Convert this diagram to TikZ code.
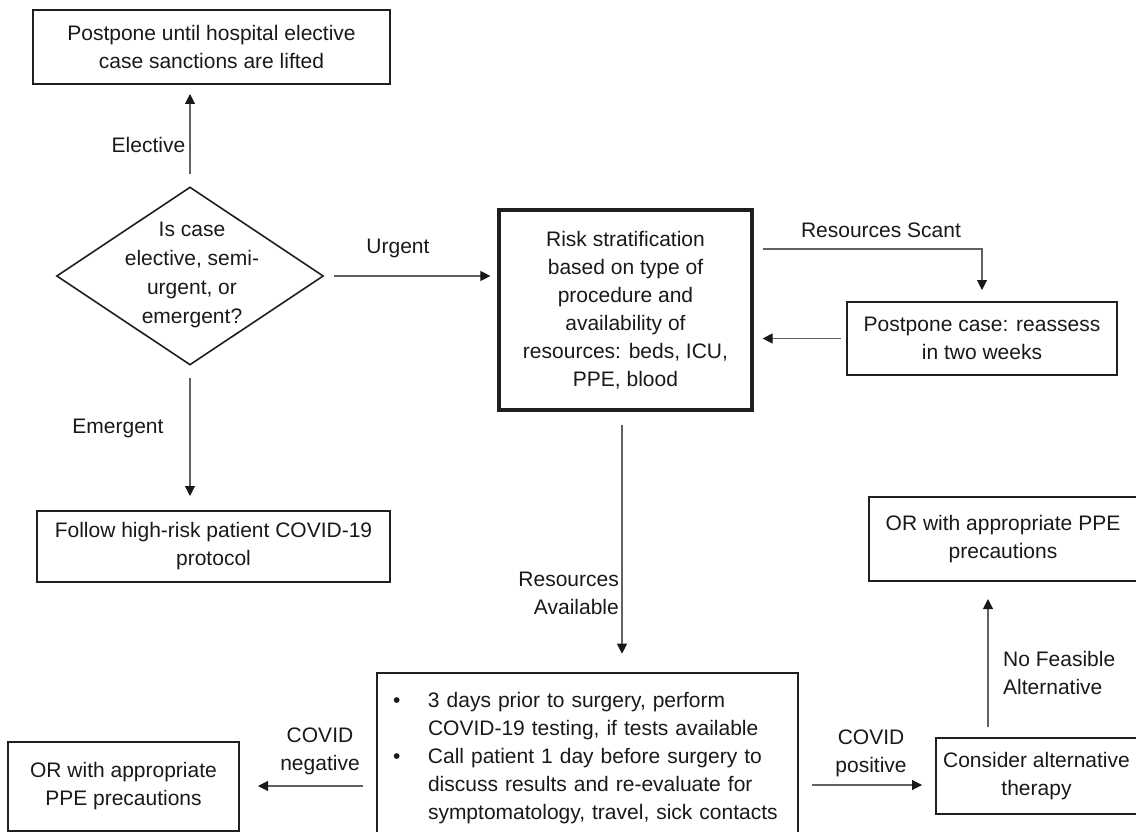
\documentclass[tikz,border=0pt]{standalone}
\usepackage{fontspec}
\setmainfont{Liberation Sans}
\usetikzlibrary{shapes.geometric,arrows.meta}
\begin{document}
\begin{tikzpicture}[x=1pt,y=-1pt,
  every node/.style={font=\fontsize{21}{28}\selectfont, inner sep=0pt, text=black!90},
  box/.style={draw=black!88, line width=2pt, rectangle, align=center},
  thickbox/.style={box, line width=3.2pt},
  arr/.style={draw=black!62, line width=1.1pt, -{Triangle[length=10pt,width=10pt,color=black!90]}},
  lab/.style={align=center},
]
\useasboundingbox (0,0) rectangle (1136,832);

% boxes
\node[box, minimum width=357pt, minimum height=74pt] (boxA) at (211.5,47)
  {Postpone until hospital elective\\case sanctions are lifted};
\node[diamond, draw=black!88, line width=1.6pt, minimum width=267pt, minimum height=178pt] (diam) at (190,276) {};
\node[lab, font=\fontsize{21}{29}\selectfont] (dtext) at (192,275)
  {Is case\\elective, semi-\\urgent, or\\emergent?};
\node[box, minimum width=353pt, minimum height=71pt] (follow) at (213.5,546.5)
  {Follow high-risk patient COVID-19\\protocol};
\node[thickbox, minimum width=253pt, minimum height=200pt] (risk) at (625.5,310)
  {Risk stratification\\based on type of\\procedure and\\availability of\\resources: beds, ICU,\\PPE, blood};
\node[box, minimum width=270pt, minimum height=73pt] (postpone) at (982,338.5)
  {Postpone case: reassess\\in two weeks};
\node[box, minimum width=268pt, minimum height=84pt] (ortr) at (1003,539)
  {OR with appropriate PPE\\precautions};
\node[box, line width=2.6pt, align=left, text width=389pt, inner xsep=16pt, minimum height=170pt] (bullet) at (587.5,758)
  {\makebox[35pt][l]{\textbullet}3 days prior to surgery, perform\\
   \hspace*{35pt}COVID-19 testing, if tests available\\
   \makebox[35pt][l]{\textbullet}Call patient 1 day before surgery to\\
   \hspace*{35pt}discuss results and re-evaluate for\\
   \hspace*{35pt}symptomatology, travel, sick contacts};
\node[box, minimum width=231pt, minimum height=89pt] (orl) at (123.5,786.5)
  {OR with appropriate\\PPE precautions};
\node[box, minimum width=201pt, minimum height=76pt] (consider) at (1036.5,776)
  {Consider alternative\\therapy};

% helper coordinates
\coordinate (avx) at (622,0);
\coordinate (nfx) at (988,0);
\coordinate (scy) at (0,249);
\coordinate (negy) at (0,786);
\coordinate (posy) at (0,785);

% connectors
\draw[arr, shorten <=12pt, shorten >=9pt] (diam.north) -- (diam.north |- boxA.south);
\draw[arr, shorten <=10pt, shorten >=7pt] (diam.east) -- (risk.west |- diam.east);
\draw[arr, shorten <=12pt, shorten >=14pt] (diam.south) -- (diam.south |- follow.north);
\draw[arr, shorten <=9pt, shorten >=11pt] (risk.east |- scy) -| (postpone.north);
\draw[arr, shorten <=5pt, shorten >=9pt] (postpone.west) -- (risk.east |- postpone.west);
\draw[arr, shorten <=13pt, shorten >=18pt] (risk.south -| avx) -- (bullet.north -| avx);
\draw[arr, shorten <=13pt, shorten >=18pt] (bullet.west |- negy) -- (orl.east |- negy);
\draw[arr, shorten <=13pt, shorten >=13pt] (bullet.east |- posy) -- (consider.west |- posy);
\draw[arr, shorten <=10pt, shorten >=17pt] (consider.north -| nfx) -- (ortr.south -| nfx);

% labels
\node[lab] (lelective) at (148.5,145) {Elective};
\node[lab] (lurgent) at (398,248) {Urgent};
\node[lab] (lemergent) at (118,428) {Emergent};
\node[lab] (lscant) at (881,230) {Resources Scant};
\node[align=right, anchor=east] (lavail) at (619,593) {Resources\\Available};
\node[lab] (lneg) at (320,751) {COVID\\negative};
\node[lab] (lpos) at (871,753) {COVID\\positive};
\node[align=left, anchor=west] (lnf) at (1003,673) {No Feasible\\Alternative};
\end{tikzpicture}
\end{document}
